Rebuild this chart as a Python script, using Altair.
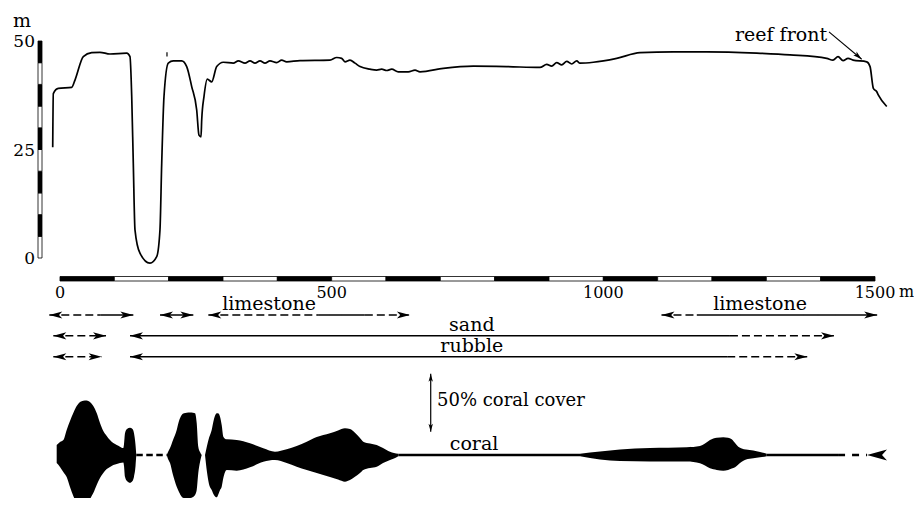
import altair as alt
import pandas as pd

SERIF = "DejaVu Serif"
W, H = 870, 490

# ---------------- data ----------------
# height profile along the transect (distance in m, height in m)
profile_dist = [-13.4, -12.3, -3.1, 21.5, 27.6, 42.9, 58.3, 73.6, 92, 122.8, 128.8, 132, 134.9, 138,
                147.2, 165.6, 178, 184, 187.2, 191.4, 199.3, 208.5, 224, 233.2, 242.4, 251.6, 255.8,
                259.5, 260.8, 265, 271.1, 279.2, 288.4, 300.6, 319, 328.2, 340.5, 349.7, 358.9, 368.1,
                377.3, 386.5, 398.8, 408, 417.2, 441.7, 496.9, 509.3, 518.5, 524.5, 533.7, 543, 552.2,
                570.6, 582.9, 592.1, 601.3, 610.5, 622.6, 641, 653.4, 662.6, 705.5, 760.7, 822, 883.4,
                895.8, 905, 914.2, 923.4, 932.6, 941.8, 951, 957, 981.6, 1024.6, 1067.5, 1128.8, 1190.3,
                1282.3, 1343.6, 1411.2, 1422.7, 1432, 1441.2, 1450.4, 1459.6, 1484.8, 1490.9, 1497,
                1503.3, 1506, 1521.6]
profile_height = [25.5, 37.9, 39.1, 39.3, 41.0, 46.4, 47.3, 47.4, 47.0, 47.2, 46.4, 37.2, 21.8, 6.5,
                  1.1, -1.2, 0.3, 6.5, 21.8, 37.2, 44.9, 45.4, 45.4, 44.1, 39.5, 34.1, 28.3,
                  27.9, 31.8, 37.2, 41.2, 40.6, 44.1, 45.1, 44.9, 45.4, 44.9, 45.4, 44.9, 45.4,
                  44.9, 45.4, 45.0, 45.6, 45.2, 45.5, 45.6, 46.2, 46.0, 45.2, 45.6, 44.9, 44.1,
                  43.5, 43.3, 43.5, 43.2, 43.5, 42.9, 42.9, 43.3, 42.9, 43.7, 44.2, 44.1, 43.9,
                  44.6, 44.2, 45.0, 44.5, 45.3, 44.7, 45.4, 44.9, 45.1, 46.0, 47.3, 47.5, 47.5,
                  47.2, 46.8, 46.0, 45.6, 46.4, 45.5, 46.0, 45.6, 45.2, 44.1, 39.1,
                  38.3, 37.6, 34.9]

depth_ticks = [0, 25, 50]
depth_tick_labels = ["0", "25", "50"]
depth_bar_lo = [0, 5, 10, 15, 20, 25, 30, 35, 40, 45]
depth_bar_shade = ["white", "black"] * 5

dist_bar_lo = list(range(0, 1500, 100))
dist_bar_shade = ["black", "white"] * 7 + ["black"]
dist_ticks = [0, 500, 1000, 1500]
dist_tick_labels = ["0", "500", "1000", "1500"]

# substrate ranges
rows = ["limestone", "sand", "rubble"]
seg_row = ["limestone"] * 8 + ["sand"] * 3 + ["rubble"] * 3
seg_from = [-19.7, 74, 184, 273, 475, 561, 1107, 1172, -12.3, 128.8, 1233, -12.3, 128.8, 1228]
seg_to = [74, 135, 245.4, 475, 561, 644, 1172, 1504, 84.7, 1233, 1424.6, 76.7, 1228, 1375.5]
seg_style = ["dashed", "solid", "solid", "dashed", "solid", "dashed", "dashed", "solid",
             "dashed", "solid", "dashed", "dashed", "solid", "dashed"]
head_row = ["limestone"] * 8 + ["sand"] * 4 + ["rubble"] * 4
head_at = [-19.7, 135, 184, 245.4, 273, 644, 1107, 1504, -12.3, 84.7, 128.8, 1424.6,
           -12.3, 76.7, 128.8, 1375.5]
head_dir = ["left", "right"] * 8
lab_row = ["limestone", "limestone", "sand", "rubble"]
lab_at = [384.7, 1288.4, 758, 758]
lab_text = ["limestone", "limestone", "sand", "rubble"]

# coral cover (% above / below the transect line)
blob1_d = [-6.1, 0, 6.1, 12.3, 18.4, 24.5, 30.7, 36.8, 42.9, 49.1, 55.2, 61.3, 67.5, 73.6, 79.7,
           86.0, 92.0, 98.1, 104.4, 110.4, 116.5, 117.8, 119.6, 123.3, 128.8, 133.4, 136.2, 139.0, 140.4]
blob1_up = [8.6, 11.2, 12.9, 21.6, 29.3, 36.2, 42.2, 45.7, 46.8, 47.0, 45.7, 42.2, 36.2, 27.6, 20.7,
            16.4, 12.9, 10.3, 8.6, 7.2, 6.0, 9.5, 18.7, 22.4, 23.5, 22.4, 18.7, 8.6, 0]
blob1_lo = [-6.9, -10.3, -14.7, -19.0, -27.6, -35.3, -41.4, -43.5, -44.0, -42.2, -37.9, -32.8, -25.9,
            -19.8, -15.5, -12.1, -10.3, -8.6, -7.8, -6.9, -6.5, -9.5, -18.7, -22.4, -23.9, -22.4,
            -18.7, -9.5, 0]
blob2_d = [196.4, 198.8, 202.5, 208.0, 214.8, 219.0, 224.0, 228.2, 233.2, 239.3, 244.8, 248.5,
           251.6, 254.5, 257.7, 260.8]
blob2_up = [0, 2.6, 6.0, 12.9, 21.6, 29.3, 34.5, 35.9, 36.5, 36.6, 36.4, 35.9, 27.6, 7.2, 2.6, 0]
blob2_lo = [0, -3.4, -6.9, -17.2, -27.3, -31.9, -35.9, -37.1, -37.3, -37.1, -36.2, -34.5, -30.2,
            -15.5, -6.0, 0]
blob3_d = [266.9, 270.5, 274.2, 279.2, 283.4, 288.4, 291.7, 294.5, 297.6, 300.6, 306.8, 325.2,
           349.7, 374.2, 395.7, 417.2, 435.6, 454.1, 472.5, 484.6, 496.9, 511.7, 524.5, 533.7,
           542.9, 552.1, 558.2, 570.6, 582.9, 594.5, 607.4, 614.7, 622.6]
blob3_up = [0, 7.8, 14.7, 21.6, 31.0, 35.9, 35.8, 33.0, 25.9, 15.8, 13.5, 12.9, 10.1, 5.8, 2.8,
            4.9, 7.8, 11.5, 15.5, 17.2, 18.7, 21.1, 23.0, 22.4, 19.2, 14.7, 11.5, 9.9, 8.6, 6.0,
            2.8, 1.7, 1.1]
blob3_lo = [0, -14.7, -25.0, -30.2, -34.5, -36.5, -33.6, -30.2, -27.3, -19.8, -12.9, -13.5, -10.6,
            -5.8, -4.3, -6.9, -10.1, -12.9, -15.5, -17.2, -19.0, -21.1, -23.0, -21.6, -18.7, -15.5,
            -12.9, -11.2, -10.1, -6.9, -4.3, -3.0, -1.1]
blob4_d = [957.1, 993.9, 1030.7, 1085.9, 1153.4, 1177.9, 1187.1, 1196.3, 1208.7, 1220.8, 1229.5,
           1236.3, 1242.4, 1248.4, 1254.7, 1262.6, 1276.0, 1288.4, 1300.7]
blob4_up = [1.1, 3.0, 4.7, 6.0, 6.7, 7.8, 9.9, 12.9, 14.8, 15.3, 14.8, 13.5, 10.3, 7.2, 5.6, 4.7,
            3.9, 2.6, 1.1]
blob4_lo = [-1.1, -3.9, -5.2, -5.6, -5.6, -7.2, -9.1, -11.5, -12.9, -13.5, -12.9, -11.6, -10.6,
            -8.2, -5.8, -3.9, -2.8, -2.0, -1.1]
coral_line_from = [140.4, 622.6, 1300.7, 1432.0]
coral_line_to = [196.4, 957.1, 1432.0, 1485.3]
coral_line_style = ["coral_dash", "solid", "solid", "sparse"]

# ---------------- scales ----------------
PX_M = 815 / 1500.0
X_LO = -16 / PX_M
X_HI = X_LO + W / PX_M
xs = alt.Scale(domain=[X_LO, X_HI], nice=False, zero=False)

D_PX = 4.34
ys_depth = alt.Scale(domain=[(250 - H) / D_PX, 250 / D_PX], nice=False, zero=False)
C_PX = 1.16
ys_coral = alt.Scale(domain=[(447 - H) / C_PX, 447 / C_PX], nice=False, zero=False)
ys_row = alt.Scale(type="point", domain=rows, range=[307, 348.7], padding=0)
dash_scale = alt.Scale(domain=["solid", "dashed", "coral_dash", "sparse"],
                       range=[[1, 0], [8, 4], [6.5, 3.5], [7, 7]])

ARROW = "M0,0L-2,-0.55L-1.5,0L-2,0.55Z"


def X(f):
    return alt.X(f, type="quantitative", scale=xs, axis=None)


# ---------------- frames ----------------
df_prof = pd.DataFrame({"d": profile_dist, "v": profile_height, "i": range(len(profile_dist))})
df_dbar = pd.DataFrame({"lo": depth_bar_lo, "hi": [v + 5 for v in depth_bar_lo], "shade": depth_bar_shade})
df_dtick = pd.DataFrame({"v": depth_ticks, "lab": depth_tick_labels})
df_xbar = pd.DataFrame({"lo": dist_bar_lo, "hi": [v + 100 for v in dist_bar_lo], "shade": dist_bar_shade})
df_xtick = pd.DataFrame({"d": dist_ticks, "lab": dist_tick_labels})
df_seg = pd.DataFrame({"row": seg_row, "a": seg_from, "b": seg_to, "style": seg_style})
df_head = pd.DataFrame({"row": head_row, "d": head_at,
                        "ang": [0 if h == "right" else 180 for h in head_dir]})
df_lab = pd.DataFrame({"row": lab_row, "d": lab_at, "t": lab_text})

blobs = []
for k, (dd, uu, ll) in enumerate([(blob1_d, blob1_up, blob1_lo), (blob2_d, blob2_up, blob2_lo),
                                  (blob3_d, blob3_up, blob3_lo), (blob4_d, blob4_up, blob4_lo)]):
    blobs.append(pd.DataFrame({"d": dd, "up": uu, "lo": ll, "blob": k}))
df_coral = pd.concat(blobs, ignore_index=True)
df_cline = pd.DataFrame({"a": coral_line_from, "b": coral_line_to, "style": coral_line_style})

# ---------------- layers ----------------
dist_bar = alt.Chart(df_xbar).mark_rect(stroke="black", strokeWidth=0.8).encode(
    x=X("lo"), x2="hi", y=alt.value(268.5), y2=alt.value(273),
    fill=alt.Fill("shade:N", scale=None))

xtick_text = alt.Chart(df_xtick).mark_text(font=SERIF, fontSize=16, baseline="middle", color="black").encode(
    x=X("d"), y=alt.value(285), text="lab:N")
xunit = alt.Chart(pd.DataFrame({"t": ["m"]})).mark_text(
    font=SERIF, fontSize=16, align="left", baseline="middle", color="black").encode(
    x=alt.value(855), y=alt.value(284), text="t:N")

# depth group
YD = lambda f: alt.Y(f, type="quantitative", scale=ys_depth, axis=None)
depth_bar = alt.Chart(df_dbar).mark_rect(stroke="black", strokeWidth=0.8).encode(
    x=alt.value(-6), x2=alt.value(-2), y=YD("lo"), y2="hi", fill=alt.Fill("shade:N", scale=None))
profile = alt.Chart(df_prof).mark_line(color="black", strokeWidth=1.7, interpolate="monotone").encode(
    x=X("d"), y=YD("v"), order="i:Q")
marker = alt.Chart(pd.DataFrame({"d": [196.9], "v1": [46.4], "v2": [47.4]})).mark_rule(
    color="black", strokeWidth=1.2).encode(x=X("d"), y=YD("v1"), y2="v2")
depth_lab = alt.Chart(df_dtick).mark_text(font=SERIF, fontSize=17, align="right", baseline="middle",
                                          dy=1, color="black").encode(
    x=alt.value(-9), y=YD("v"), text="lab:N")
yunit = alt.Chart(pd.DataFrame({"t": ["m"]})).mark_text(
    font=SERIF, fontSize=19, baseline="middle", color="black").encode(
    x=alt.value(-22), y=alt.value(13), text="t:N")
reef_text = alt.Chart(pd.DataFrame({"t": ["reef front"]})).mark_text(
    font=SERIF, fontSize=19, baseline="middle", color="black").encode(
    x=alt.X(datum=1327, scale=xs, axis=None), y=alt.Y(datum=51.4, scale=ys_depth, axis=None), text="t:N")
reef_rule = alt.Chart(pd.DataFrame({"x1": [1415.3], "x2": [1475.5], "y1": [52.1], "y2": [45.8]})).mark_rule(
    color="black", strokeWidth=1.1).encode(x=X("x1"), x2="x2", y=YD("y1"), y2="y2")
reef_head = alt.Chart(pd.DataFrame({"d": [1475.5], "v": [45.8], "ang": [41]})).mark_point(
    shape=ARROW, filled=True, size=81, color="black", opacity=1, strokeWidth=0).encode(
    x=X("d"), y=YD("v"), angle=alt.Angle("ang:Q", scale=None))
depth_group = alt.layer(depth_bar, profile, marker, depth_lab, yunit, reef_text, reef_rule, reef_head)

# substrate rows group
YR = alt.Y("row:N", scale=ys_row, axis=None)
segs = alt.Chart(df_seg).mark_rule(color="black", strokeWidth=1.5).encode(
    x=X("a"), x2="b", y=YR, strokeDash=alt.StrokeDash("style:N", scale=dash_scale, legend=None))
heads = alt.Chart(df_head).mark_point(shape=ARROW, filled=True, size=169, color="black",
                                      opacity=1, strokeWidth=0).encode(
    x=X("d"), y=YR, angle=alt.Angle("ang:Q", scale=None))
labs = alt.Chart(df_lab).mark_text(font=SERIF, fontSize=19, baseline="alphabetic", dy=-5,
                                   color="black").encode(x=X("d"), y=YR, text="t:N")
rows_group = alt.layer(segs, heads, labs)

# coral group
YC = lambda f: alt.Y(f, type="quantitative", scale=ys_coral, axis=None)
coral_area = alt.Chart(df_coral).mark_area(color="black", opacity=1, interpolate="monotone").encode(
    x=X("d"), y=YC("up"), y2="lo", detail="blob:N")
coral_lines = alt.Chart(df_cline).mark_rule(color="black", strokeWidth=2.6).encode(
    x=X("a"), x2="b", y=alt.Y(datum=0, scale=ys_coral, axis=None),
    strokeDash=alt.StrokeDash("style:N", scale=dash_scale, legend=None))
coral_end = alt.Chart(pd.DataFrame({"d": [1485.3], "v": [0], "ang": [180]})).mark_point(
    shape=ARROW, filled=True, size=400, color="black", opacity=1, strokeWidth=0).encode(
    x=X("d"), y=YC("v"), angle=alt.Angle("ang:Q", scale=None))
cover_rule = alt.Chart(pd.DataFrame({"d": [682.3], "a": [20], "b": [70]})).mark_rule(
    color="black", strokeWidth=1.2).encode(x=X("d"), y=YC("a"), y2="b")
cover_heads = alt.Chart(pd.DataFrame({"d": [682.3, 682.3], "v": [70, 20], "ang": [270, 90]})).mark_point(
    shape=ARROW, filled=True, size=64, color="black", opacity=1, strokeWidth=0).encode(
    x=X("d"), y=YC("v"), angle=alt.Angle("ang:Q", scale=None))
cover_text = alt.Chart(pd.DataFrame({"t": ["50% coral cover"]})).mark_text(
    font=SERIF, fontSize=18, align="left", baseline="middle", color="black").encode(
    x=alt.X(datum=693.9, scale=xs, axis=None), y=alt.Y(datum=46.6, scale=ys_coral, axis=None), text="t:N")
coral_text = alt.Chart(pd.DataFrame({"t": ["coral"]})).mark_text(
    font=SERIF, fontSize=19, baseline="alphabetic", color="black").encode(
    x=alt.X(datum=762, scale=xs, axis=None), y=alt.Y(datum=4.5, scale=ys_coral, axis=None), text="t:N")
coral_group = alt.layer(coral_area, coral_lines, coral_end, cover_rule, cover_heads, cover_text, coral_text)

chart = alt.layer(dist_bar, xtick_text, xunit, depth_group, rows_group, coral_group).resolve_scale(
    y="independent"
).properties(
    width=W, height=H,
    padding={"left": 36, "top": 0, "right": 0, "bottom": 0},
    autosize=alt.AutoSizeParams(type="none"),
).configure_view(stroke=None)

chart.save("out.html", embed_options={"renderer": "svg", "actions": False})
